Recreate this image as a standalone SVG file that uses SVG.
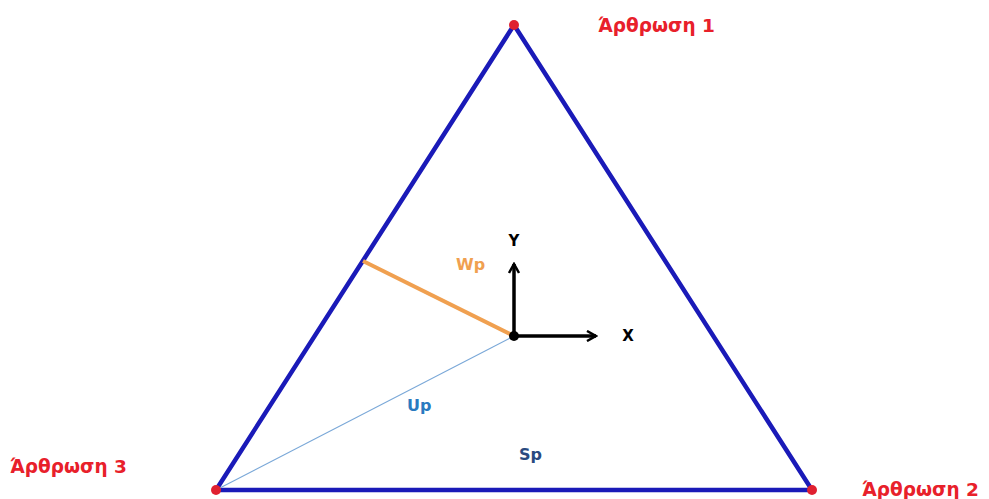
<svg xmlns="http://www.w3.org/2000/svg" width="989" height="499" viewBox="0 0 989 499">
<style>
.lbl{font-family:"DejaVu Sans",Verdana,sans-serif;font-weight:bold;}
.joint{fill:#e8202a;font-size:18.5px;}
.ax{fill:#000;font-size:15px;text-anchor:middle;}
</style>
<defs>
<marker id="arr" viewBox="0 0 12 12" refX="10" refY="6" markerWidth="12" markerHeight="12" markerUnits="userSpaceOnUse" orient="auto">
<path d="M1,1 L10,6 L1,11" fill="none" stroke="#000" stroke-width="2.5"/>
</marker>
</defs>
<rect width="989" height="499" fill="#fff"/>
<g id="connectors">
<polygon id="triangle" points="514,25 812,490 216,490" fill="none" stroke="#1a1ab8" stroke-width="4.5"/>
<line x1="216" y1="490" x2="514" y2="336" stroke="#7aa8d8" stroke-width="1.2"/>
<line x1="363" y1="261" x2="514" y2="336" stroke="#f0a050" stroke-width="4"/>
<line x1="514" y1="336" x2="514" y2="264" stroke="#000" stroke-width="3.5" marker-end="url(#arr)"/>
<line x1="514" y1="336" x2="596" y2="336" stroke="#000" stroke-width="3.5" marker-end="url(#arr)"/>
</g>
<g id="j1"><circle cx="514" cy="25" r="5" fill="#e02030"/><text class="lbl joint" x="598" y="32">Άρθρωση 1</text></g>
<g id="j2"><circle cx="812" cy="490" r="5" fill="#e02030"/><text class="lbl joint" x="862" y="496">Άρθρωση 2</text></g>
<g id="j3"><circle cx="216" cy="490" r="5" fill="#e02030"/><text class="lbl joint" x="10" y="473">Άρθρωση 3</text></g>
<g id="origin"><circle cx="514" cy="336" r="5" fill="#000"/></g>
<g id="labels">
<text class="lbl ax" x="514" y="246">Y</text>
<text class="lbl ax" x="628" y="341">X</text>
<text class="lbl" x="456" y="270" font-size="16" fill="#f0a050">Wp</text>
<text class="lbl" x="407" y="411" font-size="16" fill="#2a7ac0">Up</text>
<text class="lbl" x="519" y="460" font-size="16" fill="#2a4a80">Sp</text>
</g>
</svg>
